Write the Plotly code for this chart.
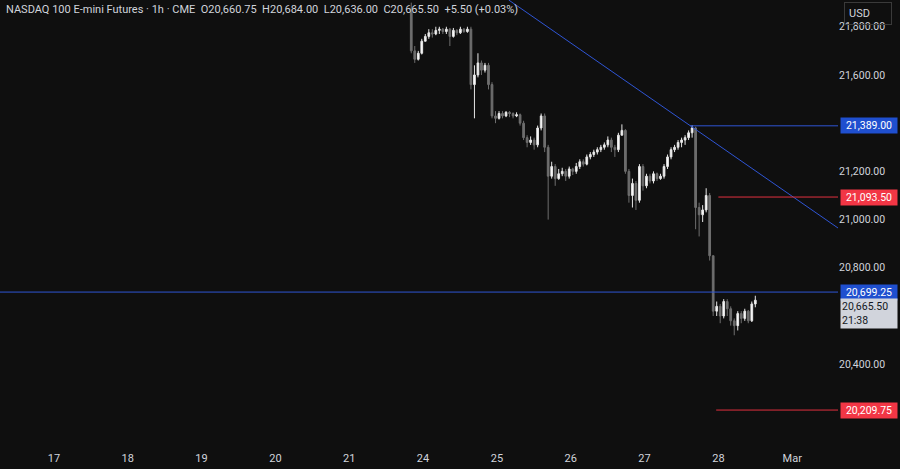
import plotly.graph_objects as go

day_labels = ["17", "18", "19", "20", "21", "24", "25", "26", "27", "28", "Mar"]

closes = [21700, 21665, 21690, 21740,
          21760, 21775, 21770, 21785, 21790, 21780, 21790, 21760, 21785, 21775, 21790, 21780, 21790,
          21560, 21600, 21650, 21620, 21640, 21560, 21430,
          21420, 21440, 21430, 21445, 21440, 21430, 21435,
          21400, 21340, 21320, 21330, 21310, 21380, 21430,
          21300, 21180, 21220, 21170, 21190, 21200,
          21180, 21210, 21200, 21220, 21240, 21230, 21260, 21270, 21280, 21290,
          21300, 21310, 21330, 21300, 21290, 21350, 21370,
          21200, 21100, 21150, 21080, 21220,
          21140, 21180, 21160, 21190, 21170, 21180,
          21220, 21260, 21290, 21300, 21320, 21330, 21340, 21360,
          21380, 21050, 21020,
          21040, 21100, 20850,
          20620, 20640, 20600, 20660, 20630, 20580, 20560, 20610, 20590, 20620, 20580, 20650, 20665.5]
opens = [21860] + closes[:-1]
highs = [21900, 21720, 21700, 21750,
         21770, 21790, 21790, 21800, 21800, 21795, 21800, 21795, 21795, 21790, 21800, 21795, 21800,
         21800, 21640, 21690, 21660, 21650, 21650, 21570,
         21450, 21450, 21450, 21450, 21450, 21445, 21445,
         21440, 21410, 21350, 21345, 21340, 21390, 21440,
         21440, 21310, 21240, 21230, 21210, 21215,
         21210, 21220, 21215, 21235, 21250, 21250, 21270, 21280, 21290, 21300,
         21310, 21320, 21345, 21340, 21310, 21360, 21395,
         21375, 21210, 21170, 21160, 21230,
         21230, 21190, 21190, 21200, 21195, 21190,
         21230, 21270, 21300, 21310, 21330, 21340, 21350, 21370,
         21392, 21385, 21070,
         21060, 21130, 21110,
         20850, 20660, 20650, 20670, 20670, 20640, 20590, 20620, 20620, 20630, 20625, 20660, 20684]
lows = [21690, 21650, 21660, 21685,
        21740, 21750, 21755, 21765, 21770, 21770, 21770, 21720, 21755, 21765, 21770, 21775, 21775,
        21540, 21420, 21590, 21600, 21610, 21540, 21420,
        21400, 21415, 21420, 21425, 21425, 21420, 21425,
        21390, 21330, 21300, 21310, 21290, 21300, 21370,
        21280, 21000, 21170, 21140, 21165, 21180,
        21160, 21170, 21185, 21190, 21210, 21220, 21225, 21250, 21260, 21270,
        21280, 21290, 21300, 21280, 21260, 21280, 21350,
        21190, 21070, 21050, 21040, 21070,
        21120, 21130, 21150, 21150, 21160, 21165,
        21170, 21210, 21250, 21280, 21290, 21300, 21310, 21330,
        21340, 20960, 20930,
        20990, 21030, 20830,
        20600, 20600, 20570, 20590, 20600, 20560, 20520, 20540, 20570, 20580, 20570, 20575, 20636]

start_day, end_day = 4.84, 9.5
n = len(closes)
xs = [start_day + i * (end_day - start_day) / (n - 1) for i in range(n)]

levels_blue = [21389.00, 20699.25]
levels_red = [21093.50, 20209.75]
trend_x = [6.16, 10.62]
trend_y = [21911, 20965]

BG = "#0f0f0f"
TXT = "#d1d4dc"
LBLUE = "#2f55d4"
LRED = "#e0303f"
RED = "#f23645"

fig = go.Figure()
fig.add_trace(go.Candlestick(
    x=xs, open=opens, high=highs, low=lows, close=closes,
    increasing=dict(line=dict(color="#e6e6e6", width=1), fillcolor="#ffffff"),
    decreasing=dict(line=dict(color="#6e6e6e", width=1), fillcolor="#6e6e6e"),
    whiskerwidth=0, showlegend=False, hoverinfo="skip"))

def hline(x0, x1, y, color):
    fig.add_trace(go.Scatter(x=[x0, x1], y=[y, y], mode="lines",
                             line=dict(color=color, width=1), showlegend=False, hoverinfo="skip"))

fig.add_trace(go.Scatter(x=trend_x, y=trend_y, mode="lines",
                         line=dict(color=LBLUE, width=1), showlegend=False, hoverinfo="skip"))
hline(8.62, 10.62, levels_blue[0], LBLUE)
hline(-0.73, 10.62, levels_blue[1], LBLUE)
hline(9.0, 10.62, levels_red[0], LRED)
hline(8.97, 10.62, levels_red[1], LRED)

tickvals = [21800, 21600, 21200, 21000, 20800, 20400]
fig.update_layout(
    width=900, height=469, paper_bgcolor=BG, plot_bgcolor=BG,
    margin=dict(l=0, r=62, t=0, b=19),
    font=dict(family="Roboto, 'Noto Sans', sans-serif", color=TXT, size=11),
    xaxis=dict(range=[-0.73, 10.62], tickvals=list(range(len(day_labels))), ticktext=day_labels,
               showgrid=False, zeroline=False, rangeslider=dict(visible=False),
               ticks="", tickfont=dict(size=11, color=TXT), fixedrange=True),
    yaxis=dict(range=[20044, 21911], side="right", tickvals=tickvals,
               ticktext=[f"{v:,.2f}" for v in tickvals], showgrid=False, zeroline=False,
               ticks="", ticklen=0, tickfont=dict(size=10.5, color=TXT)),
)

anns = [
    dict(xref="paper", yref="paper", x=0.005, y=0.998, xanchor="left", yanchor="top", showarrow=False,
         text="NASDAQ 100 E-mini Futures · 1h · CME  O20,660.75  H20,684.00  L20,636.00  C20,665.50  +5.50 (+0.03%)",
         font=dict(size=11, color=TXT)),
]
for v in levels_blue:
    anns.append(dict(xref="paper", yref="y", x=1, y=v, xanchor="left", showarrow=False, xshift=2,
                     text=f"{v:,.2f}", bgcolor="#1f4fcf", font=dict(color="#ffffff", size=10.5),
                     width=54, borderpad=1))
for v in levels_red:
    anns.append(dict(xref="paper", yref="y", x=1, y=v, xanchor="left", showarrow=False, xshift=2,
                     text=f"{v:,.2f}", bgcolor=RED, font=dict(color="#ffffff", size=10.5),
                     width=54, borderpad=1))
anns.append(dict(xref="paper", yref="y", x=1, y=closes[-1], yanchor="top", xanchor="left", showarrow=False,
                 xshift=2, yshift=2, text=f"{closes[-1]:,.2f}<br>21:38", bgcolor="#d1d4dc",
                 font=dict(color="#131722", size=10.5), width=54, borderpad=1, align="left"))
anns.append(dict(xref="paper", yref="paper", x=1, y=1, xanchor="left", yanchor="top", showarrow=False,
                 xshift=6, yshift=-2, text="USD", bordercolor="#3a3a3a", borderwidth=1, borderpad=4,
                 width=38, align="left", font=dict(color=TXT, size=11)))
fig.update_layout(annotations=anns)

fig.write_html("out.html", config={"displayModeBar": False},
               post_script="document.body.style.margin='0';document.body.style.background='#0f0f0f';")
